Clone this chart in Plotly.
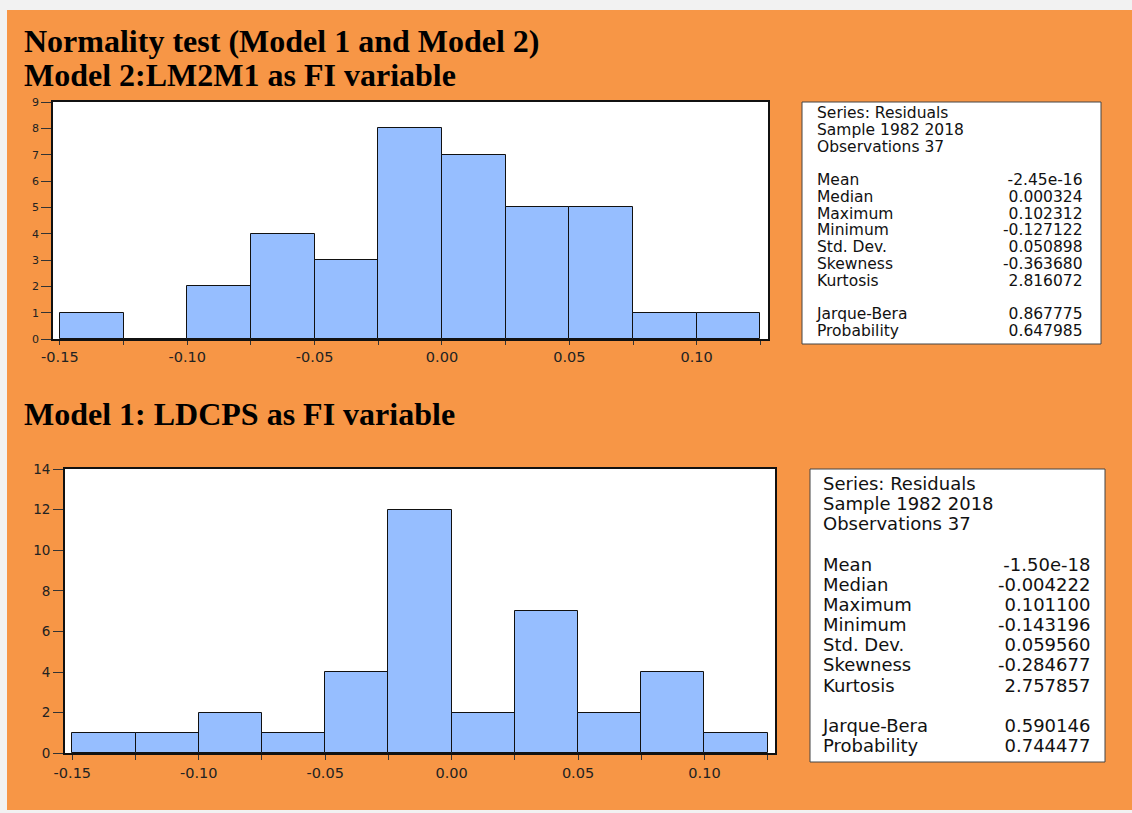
import plotly.graph_objects as go

W, H = 1132, 813

# ---------------- data ----------------
bin_left = [-0.150, -0.125, -0.100, -0.075, -0.050, -0.025, 0.000, 0.025, 0.050, 0.075, 0.100]
bin_width = 0.025
counts_model2 = [1, 0, 2, 4, 3, 8, 7, 5, 5, 1, 1]
counts_model1 = [1, 1, 2, 1, 4, 12, 2, 7, 2, 4, 1]

x_tickvals = [-0.150, -0.125, -0.100, -0.075, -0.050, -0.025, 0.000, 0.025, 0.050, 0.075, 0.100, 0.125]
x_ticktext = ["-0.15", "", "-0.10", "", "-0.05", "", "0.00", "", "0.05", "", "0.10", ""]

header_lines = ["Series: Residuals", "Sample 1982 2018", "Observations 37"]
stat_labels = ["Mean", "Median", "Maximum", "Minimum", "Std. Dev.", "Skewness", "Kurtosis",
               "Jarque-Bera", "Probability"]
model2_stats = ["-2.45e-16", "0.000324", "0.102312", "-0.127122", "0.050898", "-0.363680",
                "2.816072", "0.867775", "0.647985"]
model1_stats = ["-1.50e-18", "-0.004222", "0.101100", "-0.143196", "0.059560", "-0.284677",
                "2.757857", "0.590146", "0.744477"]

title_main = "Normality test (Model 1 and Model 2)"
title_model2 = "Model 2:LM2M1 as FI variable"
title_model1 = "Model 1: LDCPS as FI variable"

# ---------------- style ----------------
ORANGE = "#F79646"
GRAY = "#F2F2F2"
BAR = "#96BEFF"
SANS = "DejaVu Sans"
SERIF = "Liberation Serif"


def px(x):
    return x / W


def py(y):
    return 1 - y / H


fig = go.Figure()

fig.add_trace(go.Bar(x=bin_left, y=counts_model2, width=bin_width, offset=0,
                     marker=dict(color=BAR, line=dict(color="#111111", width=1)),
                     xaxis="x", yaxis="y", showlegend=False, hoverinfo="x+y"))
fig.add_trace(go.Bar(x=bin_left, y=counts_model1, width=bin_width, offset=0,
                     marker=dict(color=BAR, line=dict(color="#111111", width=1)),
                     xaxis="x2", yaxis="y2", showlegend=False, hoverinfo="x+y"))

axis_common = dict(showline=True, linecolor="#111111", linewidth=1.8, mirror=True,
                   showgrid=False, zeroline=False, ticks="outside", tickcolor="#333333",
                   tickwidth=1, automargin=False)

fig.update_layout(
    template="none",
    width=W, height=H, margin=dict(l=0, r=0, t=0, b=0, pad=0), autosize=False,
    paper_bgcolor=ORANGE, plot_bgcolor="white", bargap=0,
    xaxis=dict(domain=[px(53), px(768)], anchor="y", range=[-0.1527, 0.128],
               tickvals=x_tickvals, ticktext=x_ticktext, ticklen=4,
               tickfont=dict(family=SANS, size=14.5, color="#222222"), **axis_common),
    yaxis=dict(domain=[py(339), py(102)], anchor="x", range=[0, 9], dtick=1, ticklen=10,
               tickfont=dict(family=SANS, size=11, color="#222222"), **axis_common),
    xaxis2=dict(domain=[px(65), px(775)], anchor="y2", range=[-0.1529, 0.1279],
                tickvals=x_tickvals, ticktext=x_ticktext, ticklen=5,
                tickfont=dict(family=SANS, size=14.5, color="#222222"), **axis_common),
    yaxis2=dict(domain=[py(753.3), py(469)], anchor="x2", range=[0, 14], dtick=2, ticklen=10,
                tickfont=dict(family=SANS, size=13.5, color="#222222"), **axis_common),
)

shapes = [
    # gray page border around the orange panel
    dict(type="rect", xref="paper", yref="paper", x0=0, x1=1, y0=py(10), y1=1,
         fillcolor=GRAY, line=dict(width=0), layer="below"),
    dict(type="rect", xref="paper", yref="paper", x0=0, x1=px(7), y0=0, y1=1,
         fillcolor=GRAY, line=dict(width=0), layer="below"),
    dict(type="rect", xref="paper", yref="paper", x0=0, x1=1, y0=0, y1=py(810),
         fillcolor=GRAY, line=dict(width=0), layer="below"),
    # stats boxes
    dict(type="rect", xref="paper", yref="paper", x0=px(802), x1=px(1101), y0=py(344), y1=py(102),
         fillcolor="white", line=dict(color="#444444", width=1)),
    dict(type="rect", xref="paper", yref="paper", x0=px(810), x1=px(1105), y0=py(762), y1=py(469),
         fillcolor="white", line=dict(color="#444444", width=1)),
]
fig.update_layout(shapes=shapes)

ann = []
for txt, yy in [(title_main, 41), (title_model2, 75), (title_model1, 414)]:
    ann.append(dict(text="<b>%s</b>" % txt, xref="paper", yref="paper", x=px(22), y=py(yy),
                    xanchor="left", yanchor="middle", showarrow=False,
                    font=dict(family=SERIF, size=32, color="black")))

BLANK = "\u00a0"


def stats_block(x_left, x_right, y_top, base_size, text_size, values):
    left_lines = header_lines + [BLANK] + stat_labels[:7] + [BLANK] + stat_labels[7:]
    right_lines = [BLANK] * 4 + values[:7] + [BLANK] + values[7:]

    def wrap(lines):
        return "<br>".join('<span style="font-size:%spx">%s</span>' % (text_size, s) for s in lines)

    common = dict(xref="paper", yref="paper", y=py(y_top), yanchor="top", showarrow=False,
                  font=dict(family=SANS, size=base_size, color="#111111"))
    return [
        dict(text=wrap(left_lines), x=px(x_left), xanchor="left", align="left", **common),
        dict(text=wrap(right_lines), x=px(x_right), xanchor="right", align="right", **common),
    ]


ann += stats_block(814, 1085, 102, 12.9, 15.5, model2_stats)
ann += stats_block(820, 1092, 470.5, 15.5, 18, model1_stats)
fig.update_layout(annotations=ann)

fig.write_html("out.html", config={"displayModeBar": False, "responsive": False},
               post_script="document.body.style.margin='0px';")
